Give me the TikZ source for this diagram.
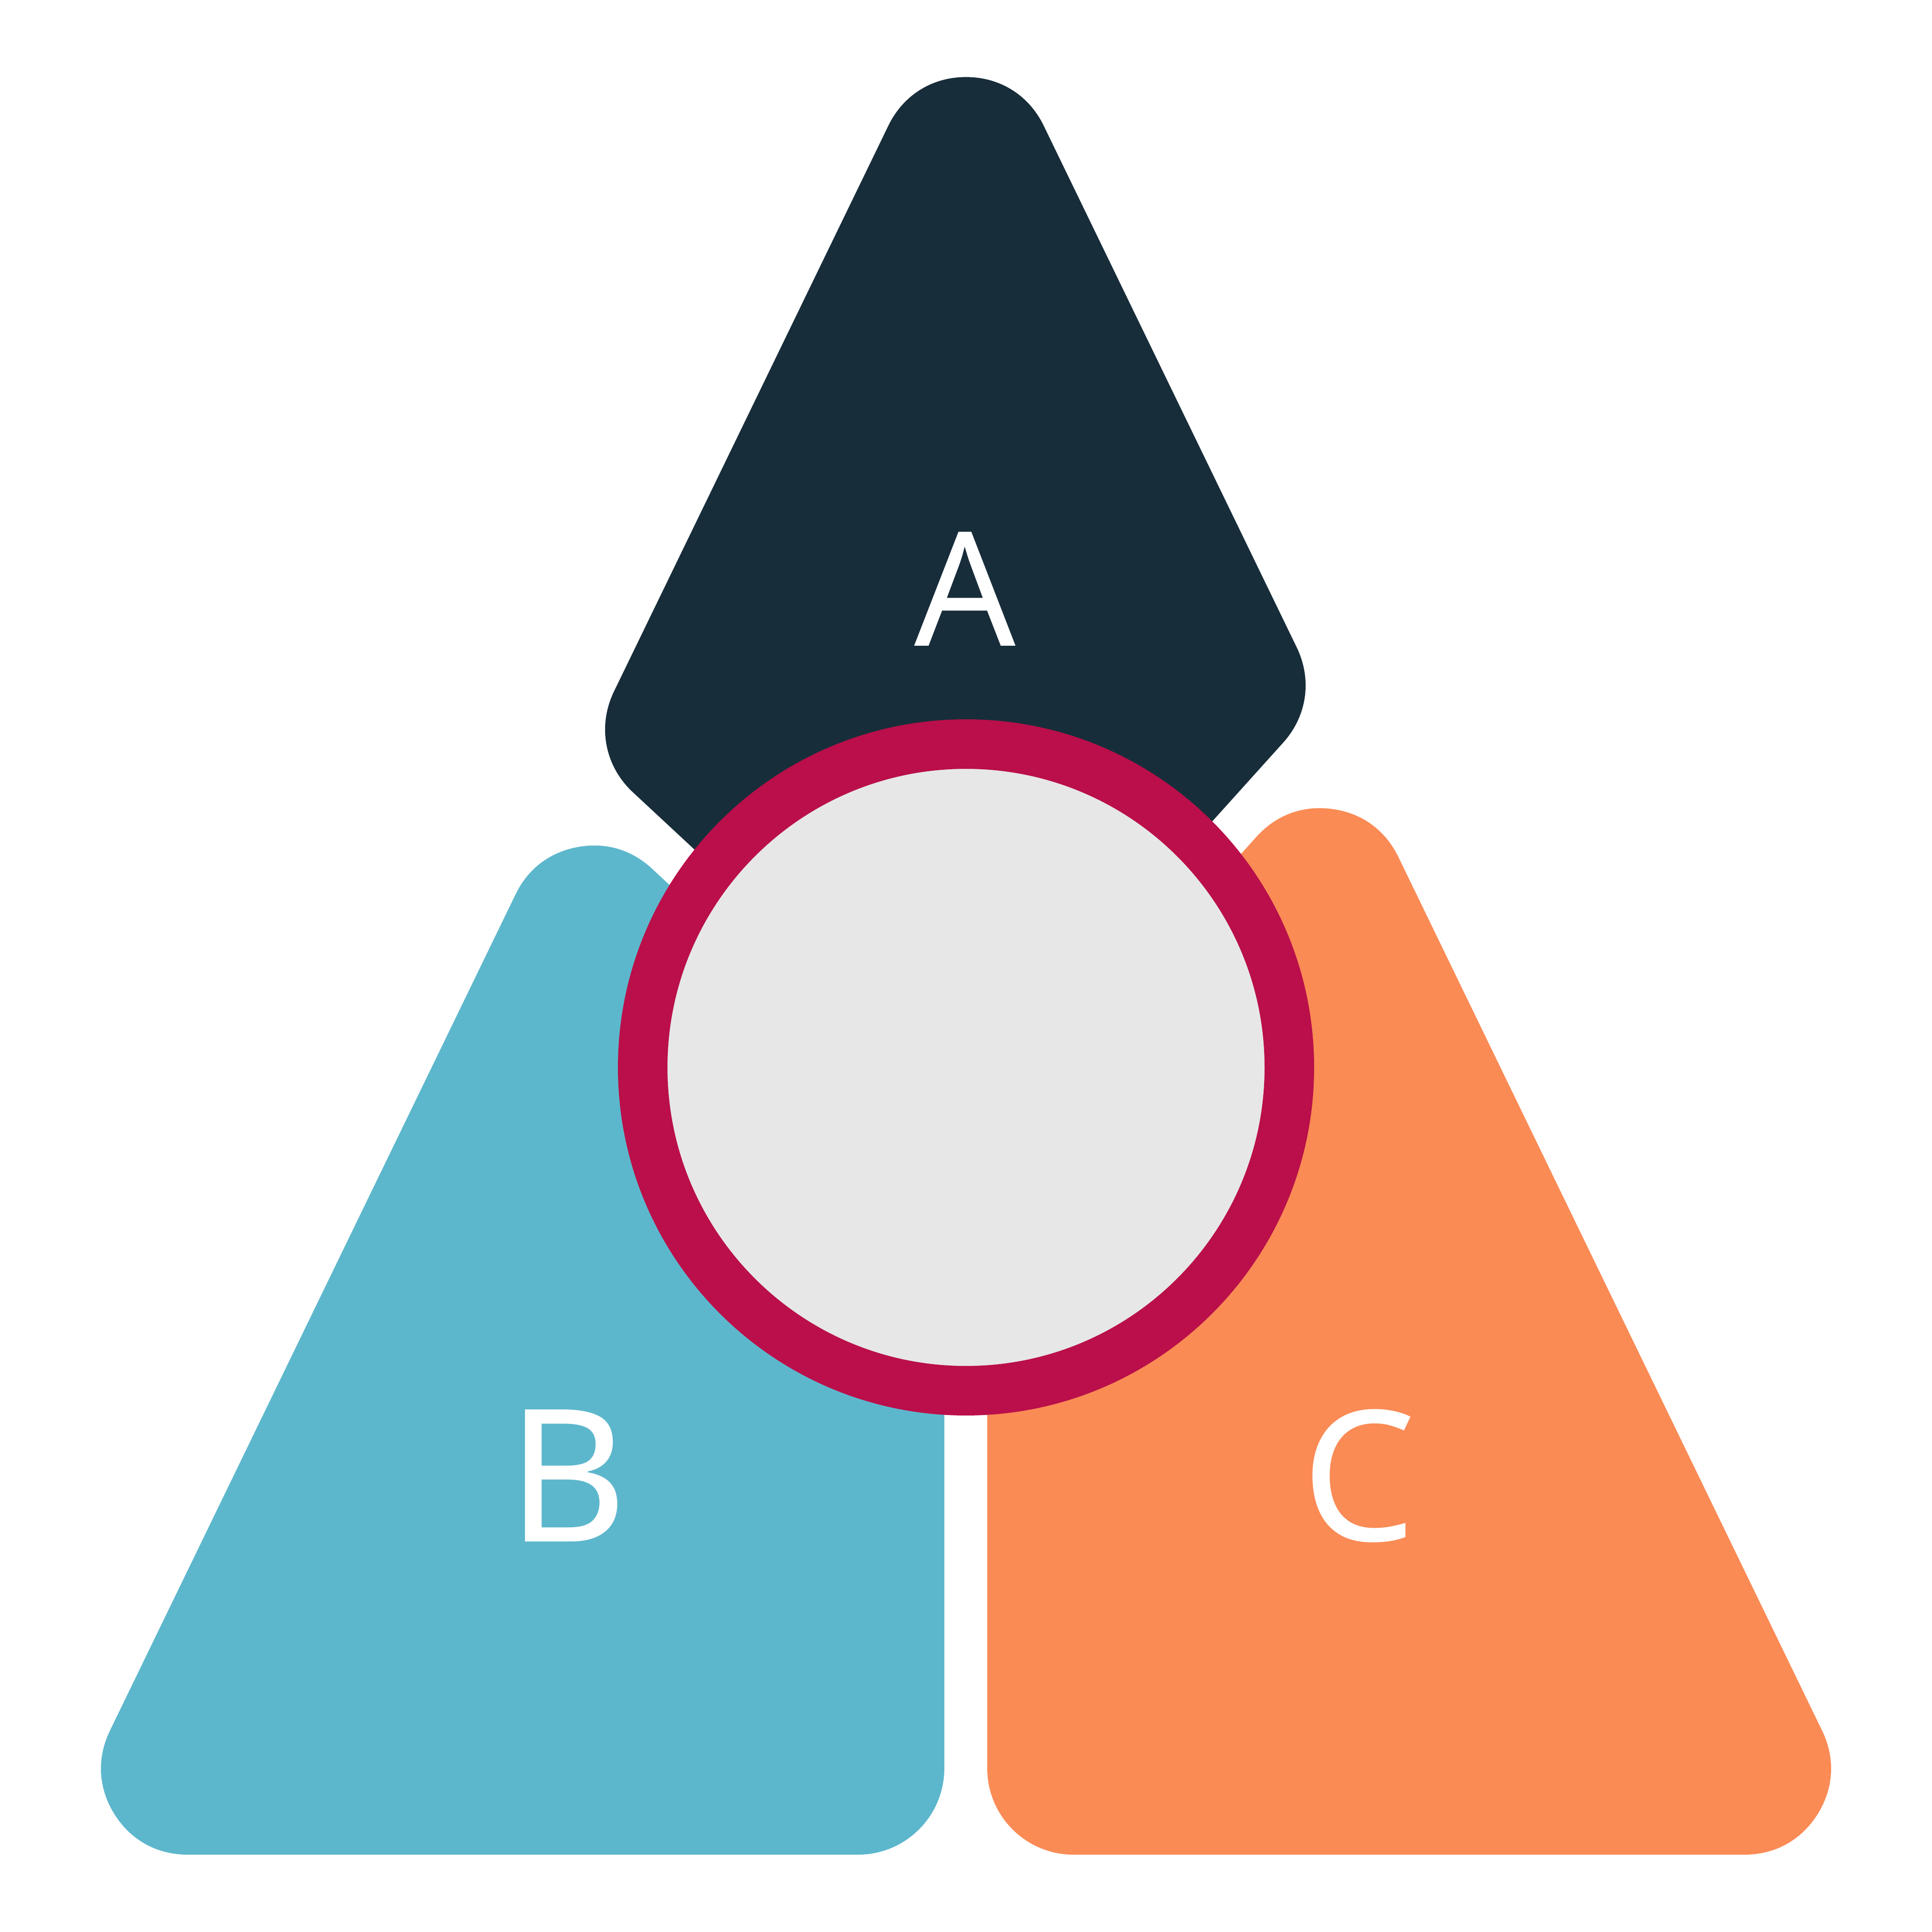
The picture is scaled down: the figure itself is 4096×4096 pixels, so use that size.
\documentclass[tikz,border=0pt]{standalone}
\usepackage{fontspec}
\setmainfont{Noto Sans}
\definecolor{navy}{HTML}{182D3A}
\definecolor{sky}{HTML}{5DB7CC}
\definecolor{coral}{HTML}{FA8B55}
\definecolor{crimson}{HTML}{BA0F4A}
\definecolor{corefill}{HTML}{E7E7E7}
\begin{document}
\begin{tikzpicture}[x=0.1pt,y=-0.1pt,
  piece/.style={line width=36.6pt, line join=round},
  lbl/.style={text=white, anchor=base, inner sep=0pt}]
\useasboundingbox (0,0) rectangle (4096,4096);
% A (top)
\filldraw[piece, fill=navy, draw=navy] (2048,346.4) -- (2584.3,1452.1) -- (2028.8,2068.7) -- (1466.4,1545.7) -- cycle;
% B (bottom left)
\filldraw[piece, fill=sky, draw=sky] (1257.8,1975.8) -- (1819,2497.7) -- (1819,3749) -- (397.7,3749) -- cycle;
% C (bottom right)
\filldraw[piece, fill=coral, draw=coral] (2799.8,1896.5) -- (3698.3,3749) -- (2276,3749) -- (2276,2478) -- cycle;
% centre ring
\node[circle, fill=corefill, draw=crimson, line width=10.5pt, minimum size=137.1pt, inner sep=0pt] (hub) at (2048,2263) {};
% labels
\node[lbl, font=\fontsize{33.7}{40}\selectfont] (la) at (2046,1370) {A};
\node[lbl, font=\fontsize{39.2}{46}\selectfont] (lb) at (1203,3268) {B};
\node[lbl, font=\fontsize{38.5}{46}\selectfont] (lc) at (2881,3266) {C};
\end{tikzpicture}
\end{document}
